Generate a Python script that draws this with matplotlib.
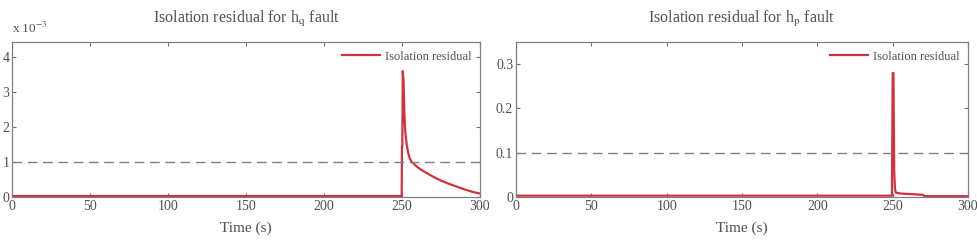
import numpy as np
import matplotlib
matplotlib.use("Agg")
import matplotlib.pyplot as plt

# left panel: h_q fault residual (values x 1e-3)
t_q = [0, 249.8, 250, 250.2, 250.5, 251, 251.5, 252, 253, 254, 255, 256, 258, 260, 263,
       266, 270, 275, 280, 285, 290, 295, 300]
r_q = [0.03, 0.03, 1.45, 1.45, 3.6, 3.3, 2.4, 1.9, 1.5, 1.25, 1.1, 1.02, 0.93, 0.85, 0.76,
       0.68, 0.58, 0.47, 0.38, 0.3, 0.22, 0.15, 0.1]
thr_q = 1.0

# right panel: h_p fault residual
t_p = [0, 249.5, 250, 250.5, 251, 251.5, 252, 255, 260, 265, 270, 271, 300]
r_p = [0.003, 0.003, 0.28, 0.28, 0.06, 0.02, 0.01, 0.008, 0.007, 0.006, 0.005, 0.002, 0.002]
thr_p = 0.1

xticks = [0, 50, 100, 150, 200, 250, 300]

plt.rcParams['font.family'] = 'Liberation Serif'
plt.rcParams['mathtext.fontset'] = 'stix'
txt = '#505050'
red = '#d2323c'

fig = plt.figure(figsize=(9.78, 2.4), dpi=100)
ax1 = fig.add_axes([0.0123, 0.179, 0.4785, 0.646])
ax2 = fig.add_axes([0.5276, 0.179, 0.4622, 0.646])

def style(ax, ylim, yticks, yticklabels, title):
    ax.set_xlim(0, 300)
    ax.set_ylim(*ylim)
    ax.set_xticks(xticks)
    ax.set_yticks(yticks)
    ax.set_yticklabels(yticklabels)
    ax.tick_params(direction='in', top=True, right=True, labelsize=10,
                   colors='#707070', labelcolor=txt, length=3, pad=2)
    for s in ax.spines.values():
        s.set_color('#808080')
        s.set_linewidth(0.9)
    ax.set_title(title, fontsize=11.5, color=txt, pad=14)
    ax.set_xlabel('Time (s)', fontsize=11, color=txt, labelpad=6)
    leg = ax.legend(loc='upper right', frameon=False, fontsize=9,
                    handlelength=3.0, handletextpad=0.4, borderaxespad=0.3)
    for t in leg.get_texts():
        t.set_color(txt)

ax1.plot(t_q, r_q, color=red, lw=1.6, label='Isolation residual')
ax1.axhline(thr_q, color='#808080', lw=1.0, ls=(0, (7, 4)))
style(ax1, (0, 4.43), [0, 1, 2, 3, 4], ['0', '1', '2', '3', '4'],
      r'Isolation residual for h$_\mathrm{q}$ fault')
ax1.text(0.0, 1.04, r'x 10$^{-3}$', transform=ax1.transAxes, fontsize=9.5,
         color=txt, ha='left', va='bottom')

ax2.plot(t_p, r_p, color=red, lw=1.6, label='Isolation residual')
ax2.axhline(thr_p, color='#808080', lw=1.0, ls=(0, (7, 4)))
style(ax2, (0, 0.35), [0, 0.1, 0.2, 0.3], ['0', '0.1', '0.2', '0.3'],
      r'Isolation residual for h$_\mathrm{p}$ fault')

fig.savefig('out.png', dpi=100)
